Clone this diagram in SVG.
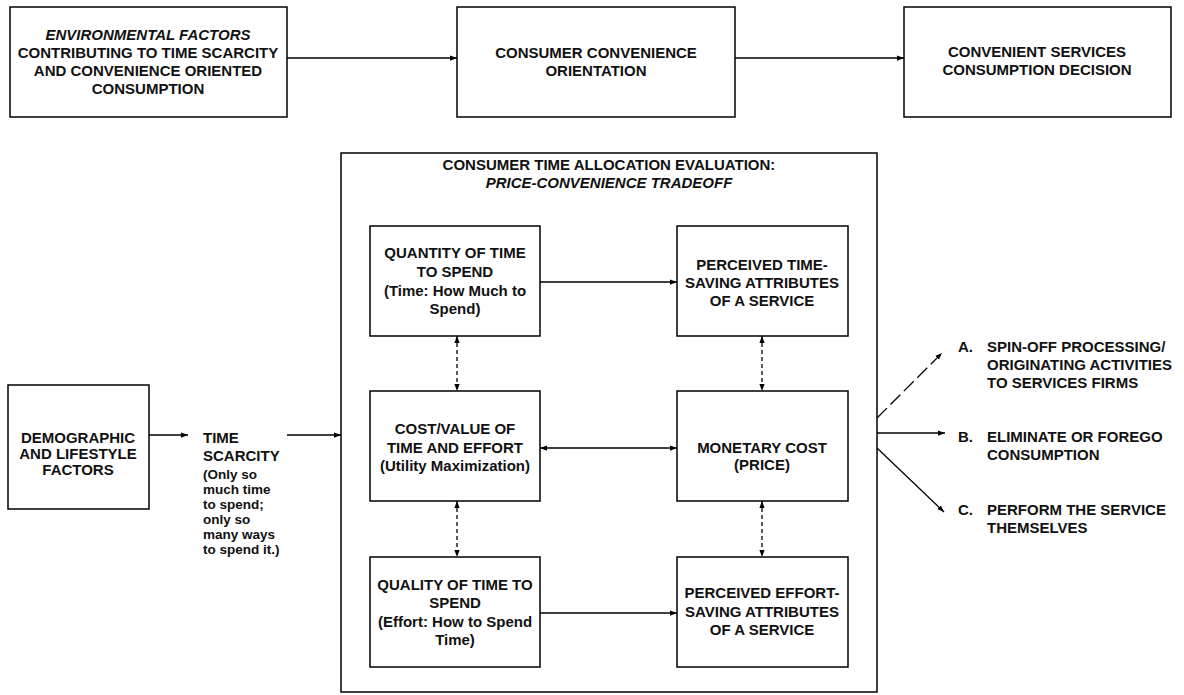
<svg xmlns="http://www.w3.org/2000/svg" width="1184" height="695" viewBox="0 0 1184 695">
<defs>
<style>
.box{fill:#fff;stroke:#000;stroke-width:1.5}
.t{font-family:"Liberation Sans",Arial,sans-serif;font-size:15px;font-weight:bold;fill:#111;text-anchor:middle}
.tl{font-family:"Liberation Sans",Arial,sans-serif;font-size:15px;font-weight:bold;fill:#111;text-anchor:start}
.r{font-size:13.5px}
.i{font-style:italic}
.ln{fill:none;stroke:#000;stroke-width:1.3}
.dash{stroke-dasharray:4,3}
.dash2{stroke-dasharray:14,5}
</style>
<marker id="ah" viewBox="0 0 8 6" refX="8" refY="3" markerWidth="7" markerHeight="6" markerUnits="userSpaceOnUse" orient="auto-start-reverse">
<path d="M0,0 L8,3 L0,6 z" fill="#000"/>
</marker>
</defs>
<rect width="1184" height="695" fill="#fff"/>

<g id="env">
<rect class="box" x="10" y="7" width="277" height="110"/>
<text class="t" x="148" y="40"><tspan class="i">ENVIRONMENTAL FACTORS</tspan><tspan x="148" dy="18">CONTRIBUTING TO TIME SCARCITY</tspan><tspan x="148" dy="18">AND CONVENIENCE ORIENTED</tspan><tspan x="148" dy="18">CONSUMPTION</tspan></text>
</g>
<g id="orientation">
<rect class="box" x="457" y="7" width="278" height="110"/>
<text class="t" x="596" y="58">CONSUMER CONVENIENCE<tspan x="596" dy="18">ORIENTATION</tspan></text>
</g>
<g id="decision">
<rect class="box" x="904" y="7" width="267" height="110"/>
<text class="t" x="1037" y="57">CONVENIENT SERVICES<tspan x="1037" dy="18">CONSUMPTION DECISION</tspan></text>
</g>

<g id="evaluation">
<rect class="box" x="341" y="153" width="536" height="539" fill="none"/>
<text class="t" x="609" y="170">CONSUMER TIME ALLOCATION EVALUATION:<tspan x="609" dy="18" class="i">PRICE-CONVENIENCE TRADEOFF</tspan></text>
</g>

<g id="demographic">
<rect class="box" x="8" y="385" width="141" height="124"/>
<text class="t" x="78" y="443">DEMOGRAPHIC<tspan x="78" dy="16">AND LIFESTYLE</tspan><tspan x="78" dy="16">FACTORS</tspan></text>
</g>
<g id="scarcity">
<text class="tl" x="203" y="443">TIME<tspan x="203" dy="18">SCARCITY</tspan><tspan class="r" x="203" dy="18">(Only so</tspan><tspan class="r" x="203" dy="15">much time</tspan><tspan class="r" x="203" dy="15">to spend;</tspan><tspan class="r" x="203" dy="15">only so</tspan><tspan class="r" x="203" dy="15">many ways</tspan><tspan class="r" x="203" dy="15">to spend it.)</tspan></text>
</g>

<g id="quantity">
<rect class="box" x="370" y="226" width="170" height="110"/>
<text class="t" x="455" y="258">QUANTITY OF TIME<tspan x="455" dy="19">TO SPEND</tspan><tspan x="455" dy="19">(Time: How Much to</tspan><tspan x="455" dy="18">Spend)</tspan></text>
</g>
<g id="timesaving">
<rect class="box" x="677" y="226" width="171" height="110"/>
<text class="t" x="762" y="270">PERCEIVED TIME-<tspan x="762" dy="18">SAVING ATTRIBUTES</tspan><tspan x="762" dy="18">OF A SERVICE</tspan></text>
</g>
<g id="costvalue">
<rect class="box" x="370" y="391" width="170" height="110"/>
<text class="t" x="455" y="434">COST/VALUE OF<tspan x="455" dy="19">TIME AND EFFORT</tspan><tspan x="455" dy="18">(Utility Maximization)</tspan></text>
</g>
<g id="monetary">
<rect class="box" x="677" y="391" width="171" height="110"/>
<text class="t" x="762" y="453">MONETARY COST<tspan x="762" dy="17">(PRICE)</tspan></text>
</g>
<g id="quality">
<rect class="box" x="370" y="557" width="170" height="110"/>
<text class="t" x="455" y="590">QUALITY OF TIME TO<tspan x="455" dy="18">SPEND</tspan><tspan x="455" dy="19">(Effort: How to Spend</tspan><tspan x="455" dy="18">Time)</tspan></text>
</g>
<g id="effortsaving">
<rect class="box" x="677" y="557" width="171" height="110"/>
<text class="t" x="762" y="598">PERCEIVED EFFORT-<tspan x="762" dy="19">SAVING ATTRIBUTES</tspan><tspan x="762" dy="18">OF A SERVICE</tspan></text>
</g>

<g id="outcomeA">
<text class="tl" x="958" y="352">A.<tspan x="987">SPIN-OFF PROCESSING/</tspan><tspan x="987" dy="18">ORIGINATING ACTIVITIES</tspan><tspan x="987" dy="18">TO SERVICES FIRMS</tspan></text>
</g>
<g id="outcomeB">
<text class="tl" x="958" y="442">B.<tspan x="987">ELIMINATE OR FOREGO</tspan><tspan x="987" dy="18">CONSUMPTION</tspan></text>
</g>
<g id="outcomeC">
<text class="tl" x="958" y="515">C.<tspan x="987">PERFORM THE SERVICE</tspan><tspan x="987" dy="18">THEMSELVES</tspan></text>
</g>

<g id="connectors">
<line class="ln" x1="287" y1="58" x2="457" y2="58" marker-end="url(#ah)"/>
<line class="ln" x1="735" y1="58" x2="904" y2="58" marker-end="url(#ah)"/>
<line class="ln" x1="149" y1="435" x2="188" y2="435" marker-end="url(#ah)"/>
<line class="ln" x1="287" y1="435" x2="341" y2="435" marker-end="url(#ah)"/>
<line class="ln" x1="540" y1="282" x2="677" y2="282" marker-end="url(#ah)"/>
<line class="ln" x1="540" y1="448" x2="677" y2="448" marker-start="url(#ah)" marker-end="url(#ah)"/>
<line class="ln" x1="540" y1="613" x2="677" y2="613" marker-end="url(#ah)"/>
<line class="ln dash" x1="457" y1="336" x2="457" y2="391" marker-start="url(#ah)" marker-end="url(#ah)"/>
<line class="ln dash" x1="457" y1="501" x2="457" y2="557" marker-start="url(#ah)" marker-end="url(#ah)"/>
<line class="ln dash" x1="762" y1="336" x2="762" y2="391" marker-start="url(#ah)" marker-end="url(#ah)"/>
<line class="ln dash" x1="762" y1="501" x2="762" y2="557" marker-start="url(#ah)" marker-end="url(#ah)"/>
<line class="ln dash2" x1="877" y1="418" x2="942" y2="353" marker-end="url(#ah)"/>
<line class="ln" x1="877" y1="433" x2="945" y2="433" marker-end="url(#ah)"/>
<line class="ln" x1="877" y1="448" x2="944" y2="512" marker-end="url(#ah)"/>
</g>
</svg>
